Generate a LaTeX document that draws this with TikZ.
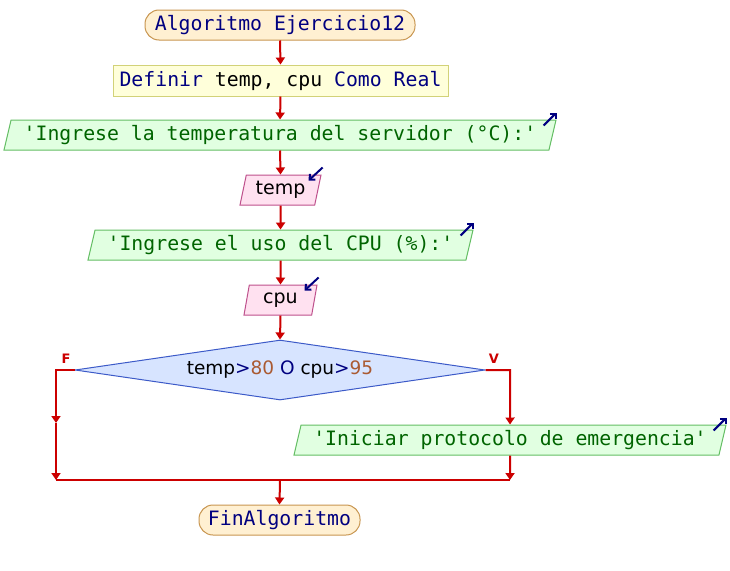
\documentclass[tikz,border=0pt]{standalone}
\usepackage{fontspec}
\usetikzlibrary{shapes.geometric,arrows.meta,calc}
\newfontfamily\monof{DejaVu Sans Mono}
\newfontfamily\propf{DejaVu Sans}
\definecolor{kw}{RGB}{0,0,128}
\definecolor{strc}{RGB}{0,100,0}
\definecolor{numc}{RGB}{170,90,50}
\definecolor{flow}{RGB}{204,0,0}
\definecolor{termfill}{RGB}{255,240,210}
\definecolor{termdraw}{RGB}{200,150,80}
\definecolor{deffill}{RGB}{255,255,218}
\definecolor{defdraw}{RGB}{210,210,120}
\definecolor{outfill}{RGB}{225,255,225}
\definecolor{outdraw}{RGB}{100,190,100}
\definecolor{infill}{RGB}{255,225,240}
\definecolor{indraw}{RGB}{190,80,140}
\definecolor{condfill}{RGB}{215,228,255}
\definecolor{conddraw}{RGB}{60,90,200}
\begin{document}
\begin{tikzpicture}[x=1pt,y=-1pt,
  monotext/.style={font=\monof\fontsize{19.8}{24}\selectfont},
  termbox/.style={monotext,draw=termdraw,fill=termfill,rounded corners=14pt,minimum height=30pt,inner sep=0pt,text=kw,line width=1pt},
  defbox/.style={monotext,draw=defdraw,fill=deffill,minimum height=31pt,inner sep=0pt,line width=1pt},
  outbox/.style={monotext,trapezium,trapezium left angle=70,trapezium right angle=110,trapezium stretches body,draw=outdraw,fill=outfill,minimum height=30pt,inner sep=0pt,text=strc,line width=1pt},
  inbox/.style={font=\propf\fontsize{19}{23}\selectfont,trapezium,trapezium left angle=70,trapezium right angle=110,trapezium stretches body,draw=indraw,fill=infill,minimum height=30pt,inner sep=0pt,line width=1pt},
  condbox/.style={font=\propf\fontsize{18.5}{22}\selectfont,diamond,draw=conddraw,fill=condfill,minimum width=410pt,minimum height=60pt,inner sep=0pt,aspect=7,line width=1pt},
  flowline/.style={draw=flow,line width=2pt},
  flowarrow/.style={flowline,-{Triangle[length=7pt,width=9pt]}},
  iconarrow/.style={draw=kw,line width=2pt,-{Straight Barb[length=4pt,width=8pt]}},
  branchlabel/.style={font=\propf\bfseries\fontsize{13}{15}\selectfont,text=flow,inner sep=0pt}
]
\useasboundingbox[fill=white] (0,0) rectangle (730,570);

\node[termbox,minimum width=270pt] (start) at (280,25) {Algoritmo Ejercicio12};
\node[defbox,minimum width=335pt] (def) at (280.5,80.5) {{\color{kw}Definir} temp, cpu {\color{kw}Como Real}};
\node[outbox,minimum width=552pt] (out1) at (280,135) {'Ingrese la temperatura del servidor (°C):'};
\node[inbox,minimum width=81pt] (inT) at (280.5,190) {temp};
\node[outbox,minimum width=385pt] (out2) at (280.5,245) {'Ingrese el uso del CPU (\%):'};
\node[inbox,minimum width=73pt] (inC) at (280.5,300) {cpu};
\node[condbox] (cond) at (280,370) {temp{\color{kw}>}{\color{numc}80} {\color{kw}O} cpu{\color{kw}>}{\color{numc}95}};
\node[outbox,minimum width=432pt] (out3) at (510,440) {'Iniciar protocolo de emergencia'};
\node[termbox,minimum width=161pt] (fin) at (279.5,520) {FinAlgoritmo};

\node[branchlabel] (lblF) at (66,359) {F};
\node[branchlabel] (lblV) at (494,359) {V};

\coordinate (fl) at (56,370);
\coordinate (fm) at (56,423);
\coordinate (fb) at (56,480);
\coordinate (vr) at (510,370);
\coordinate (vb) at (510,480);
\coordinate (mb) at (280,480);

\draw[flowarrow] (start.south) -- (def.north);
\draw[flowarrow] (def.south) -- (out1.north);
\draw[flowarrow] (out1.south) -- (inT.north);
\draw[flowarrow] (inT.south) -- (out2.north);
\draw[flowarrow] (out2.south) -- (inC.north);
\draw[flowarrow] (inC.south) -- (cond.north);
\draw[flowarrow] (cond.west) -- (fl) -- (fm);
\draw[flowarrow] (fm) -- (fb);
\draw[flowarrow] (cond.east) -- (vr) -- (out3.north);
\draw[flowarrow] (out3.south) -- (vb);
\draw[flowline] (fb) -- (vb);
\draw[flowarrow] (mb) -- (fin.north);

\draw[iconarrow] ($(out1.top right corner)+(-13,6)$) -- ($(out1.top right corner)+(0,-7)$);
\draw[iconarrow] ($(out2.top right corner)+(-13,6)$) -- ($(out2.top right corner)+(0,-7)$);
\draw[iconarrow] ($(out3.top right corner)+(-13,6)$) -- ($(out3.top right corner)+(0,-7)$);
\draw[iconarrow] ($(inT.top right corner)+(1,-7)$) -- ($(inT.top right corner)+(-13,6)$);
\draw[iconarrow] ($(inC.top right corner)+(1,-7)$) -- ($(inC.top right corner)+(-13,6)$);
\end{tikzpicture}
\end{document}
